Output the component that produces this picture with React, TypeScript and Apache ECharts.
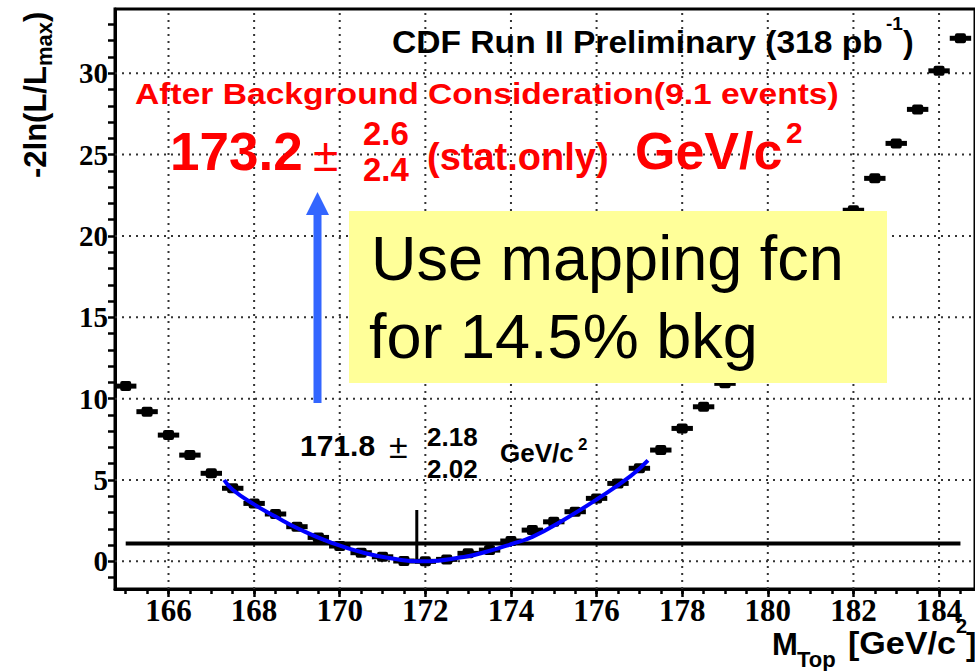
import React, { useEffect, useRef } from "react";
import * as echarts from "echarts";

// ---- data ----
const massBins = [
  165.0, 165.5, 166.0, 166.5, 167.0, 167.5, 168.0, 168.5, 169.0, 169.5,
  170.0, 170.5, 171.0, 171.5, 172.0, 172.5, 173.0, 173.5, 174.0, 174.5,
  175.0, 175.5, 176.0, 176.5, 177.0, 177.5, 178.0, 178.5, 179.0,
  182.0, 182.5, 183.0, 183.5, 184.0, 184.5,
];
const nllValues = [
  10.77, 9.2, 7.76, 6.53, 5.41, 4.49, 3.56, 2.91, 2.13, 1.47,
  0.94, 0.53, 0.28, 0.02, 0.0, 0.12, 0.49, 0.69, 1.25, 1.92,
  2.43, 3.05, 3.87, 4.79, 5.72, 6.84, 8.17, 9.5, 10.94,
  21.58, 23.54, 25.69, 27.78, 30.15, 32.15,
];
const binHalfWidth = 0.25;

const fitMass = [167.3, 167.5, 168.0, 168.5, 169.0, 169.8, 170.6, 171.4, 171.8, 172.9, 173.7, 174.0, 174.5, 175.2, 176.0, 176.8, 177.2];
const fitNll = [5.0, 4.4, 3.5, 2.75, 2.05, 1.15, 0.5, 0.1, 0.0, 0.27, 0.8, 1.05, 1.5, 2.5, 3.8, 5.25, 6.2];

const oneSigmaLevel = 1.1;
const oneSigmaRange = [165.0, 184.5];
const bestFitMass = 171.8;
const bestFitMarkTop = 3.15;

const xMajorTicks = [166, 168, 170, 172, 174, 176, 178, 180, 182, 184];
const xMinorTicks = [
  165, 165.5, 166, 166.5, 167, 167.5, 168, 168.5, 169, 169.5, 170, 170.5, 171, 171.5,
  172, 172.5, 173, 173.5, 174, 174.5, 175, 175.5, 176, 176.5, 177, 177.5, 178, 178.5,
  179, 179.5, 180, 180.5, 181, 181.5, 182, 182.5, 183, 183.5, 184, 184.5,
];
const yMajorTicks = [0, 5, 10, 15, 20, 25, 30];
const yMinorTicks = [
  -1, 0, 1, 2, 3, 4, 5, 6, 7, 8, 9, 10, 11, 12, 13, 14, 15, 16, 17,
  18, 19, 20, 21, 22, 23, 24, 25, 26, 27, 28, 29, 30, 31, 32, 33,
];

const X_MIN = 164.75;
const X_MAX = 184.84;
const Y_MIN = -1.7;
const Y_MAX = 33.95;

const SANS = "'Liberation Sans', Arial, Helvetica, sans-serif";
const SERIF = "'Liberation Serif', 'Times New Roman', serif";

function txt(
  text: string,
  x: number,
  y: number,
  size: number,
  color: string,
  weight: string = "bold",
  extra: any = {}
) {
  return {
    type: "text",
    x,
    y,
    z: 100,
    ...extra,
    style: {
      text,
      fill: color,
      fontSize: size,
      fontWeight: weight,
      fontFamily: SANS,
      align: "left",
      verticalAlign: "middle",
      textAlign: "left",
      textVerticalAlign: "middle",
    },
  };
}

const gridDash = { stroke: "#333", lineWidth: 2, lineDash: [2, 5] };

export default function App() {
  const ref = useRef<HTMLDivElement>(null);

  useEffect(() => {
    if (!ref.current) return;
    const chart = echarts.init(ref.current, null, { renderer: "svg" });

    const baseX = {
      type: "value",
      min: X_MIN,
      max: X_MAX,
      position: "bottom",
      splitLine: { show: false },
    };

    const option: any = {
      animation: false,
      backgroundColor: "#ffffff",
      textStyle: { fontFamily: SANS },
      grid: {
        left: 115,
        top: 9,
        width: 865,
        height: 580,
        show: true,
        borderColor: "#000",
        borderWidth: 3,
        backgroundColor: "transparent",
      },
      xAxis: [
        {
          ...baseX,
          axisLine: { show: true, onZero: false, lineStyle: { color: "#000", width: 3 } },
          axisTick: { show: true, customValues: xMajorTicks, length: 8, lineStyle: { color: "#000", width: 2.5 } },
          axisLabel: {
            show: true,
            customValues: xMajorTicks,
            margin: 6,
            color: "#000",
            fontFamily: SERIF,
            fontWeight: "bold",
            fontSize: 31,
          },
        },
        {
          ...baseX,
          axisLine: { show: false, onZero: false },
          axisTick: { show: true, customValues: xMinorTicks, length: 5, lineStyle: { color: "#000", width: 2.5 } },
          axisLabel: { show: false },
        },
      ],
      yAxis: [
        {
          type: "value",
          min: Y_MIN,
          max: Y_MAX,
          position: "left",
          splitLine: { show: false },
          axisLine: { show: true, onZero: false, lineStyle: { color: "#000", width: 3 } },
          axisTick: { show: true, customValues: yMinorTicks, length: 7, lineStyle: { color: "#000", width: 2.5 } },
          axisLabel: {
            show: true,
            customValues: yMajorTicks,
            margin: 7,
            color: "#000",
            fontFamily: SERIF,
            fontWeight: "bold",
            fontSize: 29,
          },
        },
      ],
      series: [
        {
          type: "custom",
          name: "xGrid",
          z: 1,
          silent: true,
          data: xMajorTicks.map((v) => [v, 0]),
          renderItem: (params: any, api: any) => {
            const v = api.value(0);
            const a = api.coord([v, Y_MIN]);
            const b = api.coord([v, Y_MAX]);
            return {
              type: "line",
              shape: { x1: a[0], y1: a[1], x2: b[0], y2: b[1] },
              style: gridDash,
            };
          },
        },
        {
          type: "custom",
          name: "yGrid",
          z: 1,
          silent: true,
          data: yMajorTicks.map((v) => [X_MIN, v]),
          renderItem: (params: any, api: any) => {
            const v = api.value(1);
            const a = api.coord([X_MIN, v]);
            const b = api.coord([X_MAX, v]);
            return {
              type: "line",
              shape: { x1: a[0], y1: a[1], x2: b[0], y2: b[1] },
              style: gridDash,
            };
          },
        },
        {
          type: "line",
          name: "bestFitMark",
          z: 2,
          symbol: "none",
          data: [
            [bestFitMass, 0],
            [bestFitMass, bestFitMarkTop],
          ],
          lineStyle: { color: "#000", width: 3 },
        },
        {
          type: "custom",
          name: "likelihood",
          z: 3,
          data: massBins.map((m, i) => [m, nllValues[i]]),
          renderItem: (params: any, api: any) => {
            const x = api.value(0);
            const y = api.value(1);
            const p0 = api.coord([x - binHalfWidth, y]);
            const p1 = api.coord([x + binHalfWidth, y]);
            const c = api.coord([x, y]);
            return {
              type: "group",
              children: [
                {
                  type: "line",
                  shape: { x1: p0[0], y1: p0[1], x2: p1[0], y2: p1[1] },
                  style: { stroke: "#000", lineWidth: 5 },
                },
                {
                  type: "rect",
                  shape: { x: c[0] - 5.5, y: c[1] - 5, width: 11, height: 10, r: 2 },
                  style: { fill: "#000" },
                },
              ],
            };
          },
        },
        {
          type: "line",
          name: "oneSigma",
          z: 4,
          symbol: "none",
          data: [
            [oneSigmaRange[0], oneSigmaLevel],
            [oneSigmaRange[1], oneSigmaLevel],
          ],
          lineStyle: { color: "#000", width: 4 },
        },
        {
          type: "line",
          name: "fit",
          z: 5,
          symbol: "none",
          smooth: true,
          data: fitMass.map((m, i) => [m, fitNll[i]]),
          lineStyle: { color: "#0000ff", width: 4 },
        },
      ],
      graphic: [
        // CDF header
        txt("CDF Run II Preliminary (318 pb", 392, 41.5, 32, "#000", "bold", { scaleX: 1.05 }),
        txt("-1", 886, 23.5, 19, "#000"),
        txt(")", 903, 41.5, 32, "#000"),
        // red annotation
        txt("After Background Consideration(9.1 events)", 135, 94, 30, "#ff0000", "bold", { scaleX: 1.12 }),
        txt("173.2", 170, 151.5, 53, "#ff0000"),
        txt("\u00b1", 313, 154.5, 46, "#ff0000", "normal"),
        txt("2.6", 363, 133.5, 33, "#ff0000"),
        txt("2.4", 363, 169, 33, "#ff0000"),
        txt("(stat.only)", 427, 157, 38, "#ff0000"),
        txt("GeV/c", 635, 151, 52, "#ff0000"),
        txt("2", 786, 132.5, 30, "#ff0000"),
        // arrow
        {
          type: "rect",
          z: 90,
          shape: { x: 313.5, y: 212, width: 8, height: 191 },
          style: { fill: "#3366ff" },
        },
        {
          type: "polygon",
          z: 90,
          shape: { points: [[306, 215], [329, 215], [317.5, 192]] },
          style: { fill: "#3366ff" },
        },
        // yellow box
        {
          type: "rect",
          z: 95,
          shape: { x: 349, y: 211, width: 538, height: 172 },
          style: { fill: "#ffff99" },
        },
        txt("Use mapping fcn", 371, 257.5, 63, "#000", "normal"),
        txt("for 14.5% bkg", 369, 335.5, 63, "#000", "normal"),
        // fit result
        txt("171.8", 300, 445, 30, "#000"),
        txt("\u00b1", 389, 446, 34, "#000", "normal"),
        txt("2.18", 427, 437, 26, "#000"),
        txt("2.02", 427, 469, 26, "#000"),
        txt("GeV/c", 500, 453, 26, "#000"),
        txt("2", 578, 444, 17, "#000"),
        // x axis title
        txt("M", 772, 644, 31, "#000"),
        txt("Top", 797, 659, 22, "#000"),
        txt("[GeV/c", 848, 644, 31, "#000", "bold", { scaleX: 1.1 }),
        txt("2", 956, 626, 20, "#000"),
        txt("]", 966, 644, 31, "#000"),
        // y axis title (rotated)
        {
          type: "group",
          x: 46,
          y: 178,
          rotation: Math.PI / 2,
          children: [
            txt("-2ln(L/L", 0, -10.7, 31, "#000"),
            txt("max", 112, -2, 22, "#000"),
            txt(")", 156, -10.7, 31, "#000"),
          ],
        },
      ],
    };

    chart.setOption(option);
    return () => chart.dispose();
  }, []);

  return (
    <div
      ref={ref}
      style={{ position: "fixed", left: 0, top: 0, width: 975, height: 671, background: "#fff" }}
    />
  );
}
